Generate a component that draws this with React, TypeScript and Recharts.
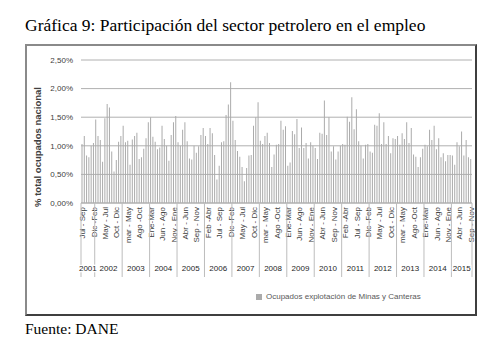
import { BarChart, Bar, XAxis, YAxis, CartesianGrid, Legend } from "recharts";

// rolling quarters, keyed by the starting month (Ene = 0)
const quarterNames = [
  "Ene-Mar", "Feb -Abr", "mar - May", "Abr - Jun", "May - Jul", "Jun - Ago",
  "Jul - Sep", "Ago -Oct", "Sep - Nov", "Oct - Dic", "Nov - Ene", "Dic -Feb",
];
const firstYear = 2001;
const firstMonth = 6; // Jul - Sep 2001

// % of national employment, Jul-Sep 2001 .. Sep-Nov 2015
const share = [
  1.03, 1.17, 0.83, 0.80, 1.00, 1.05, 1.46, 1.17, 1.10, 0.72,
  1.48, 1.73, 1.67, 0.90, 0.55, 0.75, 1.07, 1.17, 1.35, 1.06,
  1.09, 0.67, 1.11, 1.17, 1.23, 0.77, 0.80, 0.95, 1.13, 1.41,
  1.50, 1.16, 1.07, 0.94, 0.97, 1.35, 1.12, 1.00, 0.74,
  1.19, 1.41, 1.52, 1.06, 1.00, 1.28, 1.41, 1.08, 0.78, 0.76,
  1.00, 0.88, 0.99, 1.19, 1.31, 1.17, 1.03, 1.31, 1.22, 0.84,
  0.41, 0.65, 1.06, 1.08, 1.54, 1.72, 2.11, 1.44, 1.10, 0.91,
  0.81, 0.63, 0.38, 0.61, 0.83, 0.84, 1.35, 1.50, 1.76, 1.09,
  1.03, 1.17, 1.23, 1.05, 0.63, 0.85, 1.02, 1.03, 1.44, 1.28,
  1.34, 0.65, 0.71, 1.26, 1.20, 1.47, 0.96, 1.32, 0.96, 1.05,
  0.78, 1.06, 1.00, 0.96, 0.77, 1.23, 1.21, 1.79, 1.19, 1.50,
  0.90,
  0.99, 0.76, 0.90, 1.00, 1.03, 1.02, 1.51, 1.42, 1.85, 1.29,
  1.64, 1.08, 1.00, 0.78, 1.02, 1.03, 0.90, 0.88, 1.37, 1.35,
  1.57, 1.03, 1.41, 1.03, 1.17, 0.87, 1.13, 1.12, 1.17, 1.02,
  1.22, 1.12, 1.41, 1.05, 1.31, 0.85, 0.81, 0.63, 0.80, 0.95,
  1.02, 0.99, 1.28, 1.10, 1.35, 0.94, 1.13, 0.80, 0.87, 0.73,
  0.84, 0.84, 0.83, 0.67, 1.06, 0.99, 1.25, 0.83, 1.10, 0.80,
  0.77,
];
const yTicks = [0, 0.5, 1, 1.5, 2, 2.5];

const data = share.map((v, i) => {
  const m = firstMonth + i;
  return {
    period: quarterNames[m % 12],
    year: firstYear + Math.floor(m / 12),
    value: v,
  };
});

const axisFont = "'Liberation Sans', Arial, sans-serif";
const fmt = (v: number) => v.toFixed(2).replace(".", ",") + "%";

function PeriodTick(props: any) {
  const { x, y, payload } = props;
  return (
    <g transform={`translate(${x},${y})`}>
      <text transform="rotate(-90)" x={-4} dy={3} textAnchor="end" fontSize={8} fontFamily={axisFont} fill="#404040">
        {payload.value}
      </text>
    </g>
  );
}

function yearLabel(key: string, cx: number, y: number, yr: number) {
  return (
    <text
      key={key}
      x={cx}
      y={y + 13}
      textAnchor="middle"
      fontSize={8}
      fontFamily={axisFont}
      fill="#262626"
      stroke="#fff"
      strokeWidth={2.5}
      paintOrder="stroke"
    >
      {yr}
    </text>
  );
}

// year row: separator at the start of each group; the label of the previous
// group is drawn after that separator so it stays on top
function YearTick(props: any) {
  const { x, y, payload } = props;
  const i = payload.index;
  const step = 2 * (payload.offset || 1.14);
  const yr = data[i].year;
  const first = i === 0 || data[i - 1].year !== yr;
  const last = i === data.length - 1;
  const out: any[] = [];
  if (first) {
    out.push(<line key="s" x1={x - step / 2} x2={x - step / 2} y1={y - 55} y2={y + 19} stroke="#bdbdbd" />);
    if (i > 0) {
      const pyr = data[i - 1].year;
      let lo = i - 1;
      while (lo > 0 && data[lo - 1].year === pyr) lo--;
      const mid = (lo + i - 1) / 2;
      out.push(yearLabel("p", x + (mid - i) * step, y, pyr));
    }
  }
  if (last) {
    out.push(<line key="e" x1={x + step / 2} x2={x + step / 2} y1={y - 55} y2={y + 19} stroke="#bdbdbd" />);
    let lo = i;
    while (lo > 0 && data[lo - 1].year === yr) lo--;
    const mid = (lo + i) / 2;
    out.push(yearLabel("l", x + (mid - i) * step, y, yr));
  }
  return <g>{out}</g>;
}

export default function App() {
  return (
    <div style={{ position: "absolute", left: 0, top: 0, width: 500, height: 356, background: "#fff" }}>
      <div style={{ position: "absolute", left: 25, top: 17.4, fontFamily: "'Liberation Serif', 'Times New Roman', serif", fontSize: 17.5, lineHeight: "17.5px", color: "#000", whiteSpace: "nowrap" }}>
        Gráfica 9: Participación del sector petrolero en el empleo
      </div>
      <div style={{ position: "absolute", left: 25, top: 44, width: 448, height: 268, border: "2px solid #8a8a8a", borderRightColor: "#3f3f3f", borderBottomColor: "#3f3f3f", background: "#fff" }}>
        <BarChart width={448} height={268} data={data} margin={{ top: 14, right: 3, left: 0, bottom: 0 }} barCategoryGap="22%">
          <CartesianGrid vertical={false} stroke="#b0b0b0" />
          <YAxis
            domain={[0, 2.5]}
            ticks={yTicks}
            tickFormatter={fmt}
            axisLine={false}
            tickLine={false}
            tickSize={0}
            tickMargin={8}
            width={54}
            tick={{ fontSize: 8, fill: "#404040", fontFamily: axisFont }}
            label={() => (
              <text
                x={13.5}
                y={101}
                transform="rotate(-90, 13.5, 101)"
                textAnchor="middle"
                fontSize={9.5}
                fontWeight="bold"
                fontFamily={axisFont}
                fill="#404040"
              >
                % total ocupados nacional
              </text>
            )}
          />
          <XAxis
            dataKey="period"
            interval={4}
            tickLine={false}
            tickSize={0}
            tickMargin={0}
            height={55}
            axisLine={{ stroke: "#b0b0b0" }}
            tick={<PeriodTick />}
          />
          <XAxis
            xAxisId="yr"
            dataKey="year"
            interval={0}
            tickLine={false}
            axisLine={false}
            tickSize={0}
            tickMargin={0}
            height={42}
            tick={<YearTick />}
          />
          <Legend
            verticalAlign="bottom"
            align="left"
            iconType="square"
            iconSize={6}
            wrapperStyle={{ left: 229, top: 244, height: 14, fontSize: 8, fontFamily: axisFont, lineHeight: "14px" }}
            formatter={(v: string) => <span style={{ color: "#595959" }}>{v}</span>}
          />
          <Bar
            dataKey="value"
            name="Ocupados explotación de Minas y Canteras"
            fill="#ababab"
            isAnimationActive={false}
          />
        </BarChart>
      </div>
      <div style={{ position: "absolute", left: 25, top: 321, fontFamily: "'Liberation Serif', 'Times New Roman', serif", fontSize: 15.5, lineHeight: "15.5px", color: "#000", whiteSpace: "nowrap" }}>
        Fuente: DANE
      </div>
    </div>
  );
}
